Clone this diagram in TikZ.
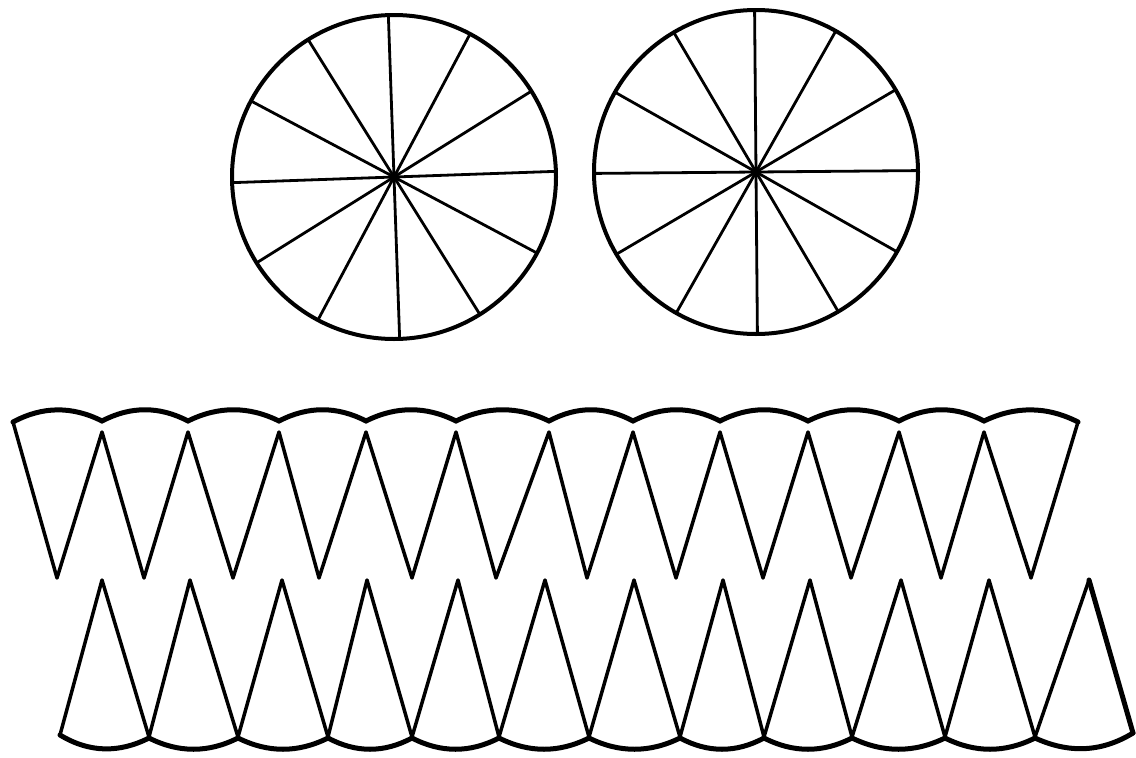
\documentclass[tikz,border=0pt]{standalone}
\begin{document}
\begin{tikzpicture}[x=1pt,y=-1pt,
  rim/.style={line width=4pt},
  spoke/.style={line width=2.8pt},
  zig/.style={line width=3.5pt,line join=round,line cap=round},
  scallop/.style={line width=5pt,line cap=round}]
\useasboundingbox[fill=white] (0,0) rectangle (1136,758);

% ---- wheel 1 ----
\coordinate (c1) at (394,177);
\draw[rim] (c1) circle[radius=162];
\foreach \t in {0,30,...,330}
  \draw[spoke] (c1) -- ++({\t-2}:162);
\fill (c1) circle[radius=4];

% ---- wheel 2 ----
\coordinate (c2) at (756,172);
\draw[rim] (c2) circle[radius=162];
\foreach \t in {0,30,...,330}
  \draw[spoke] (c2) -- ++({\t-0.5}:162);
\fill (c2) circle[radius=4];

% ---- upper strip: scalloped top ----
\foreach \a/\b/\ya/\yb in {13/102/422/421,102/188/421/421,188/279/421/421,279/366/421/421,
  366/456/421/421,456/549/421/421,549/633/421/421,633/720/421/421,720/808/421/421,
  808/899/421/421,899/984/421/421,984/1078/421/422} {
  \pgfmathsetmacro\ca{\a+(\b-\a)/3}
  \pgfmathsetmacro\cb{\b-(\b-\a)/3}
  \draw[scallop] (\a,\ya) .. controls (\ca,406) and (\cb,406) .. (\b,\yb);
}
% upper strip: teeth pointing down
\draw[zig] (13,422) -- (57,578) -- (102,432) -- (144,578) -- (188,432) -- (233,578)
  -- (279,432) -- (319,578) -- (366,432) -- (412,578) -- (456,432) -- (496,578)
  -- (549,432) -- (587,578) -- (633,432) -- (676,578) -- (720,432) -- (763,578)
  -- (808,432) -- (851,578) -- (899,432) -- (941,578) -- (984,432) -- (1031,578)
  -- (1078,422);

% ---- lower strip: scalloped bottom ----
\foreach \a/\b/\ya/\yb in {60/149/735/738,149/238/738/738,238/328/738/738,328/412/738/738,
  412/499/738/738,499/589/738/738,589/680/738/738,680/764/738/738,764/852/738/738,
  852/945/738/738,945/1035/738/738,1035/1133/738/733} {
  \pgfmathsetmacro\ca{\a+(\b-\a)/3}
  \pgfmathsetmacro\cb{\b-(\b-\a)/3}
  \draw[scallop] (\a,\ya) .. controls (\ca,753) and (\cb,753) .. (\b,\yb);
}
% lower strip: teeth pointing up
\draw[zig] (60,735) -- (102,580) -- (149,737) -- (190,580) -- (238,737) -- (282,580)
  -- (328,737) -- (367,580) -- (412,737) -- (458,580) -- (499,737) -- (545,580)
  -- (589,737) -- (634,580) -- (680,737) -- (723,580) -- (764,737) -- (810,580)
  -- (852,737) -- (901,580) -- (945,737) -- (989,580) -- (1035,737) -- (1089,580);
\draw[line width=5pt,line cap=round] (1089,580) -- (1133,733);
\end{tikzpicture}
\end{document}
